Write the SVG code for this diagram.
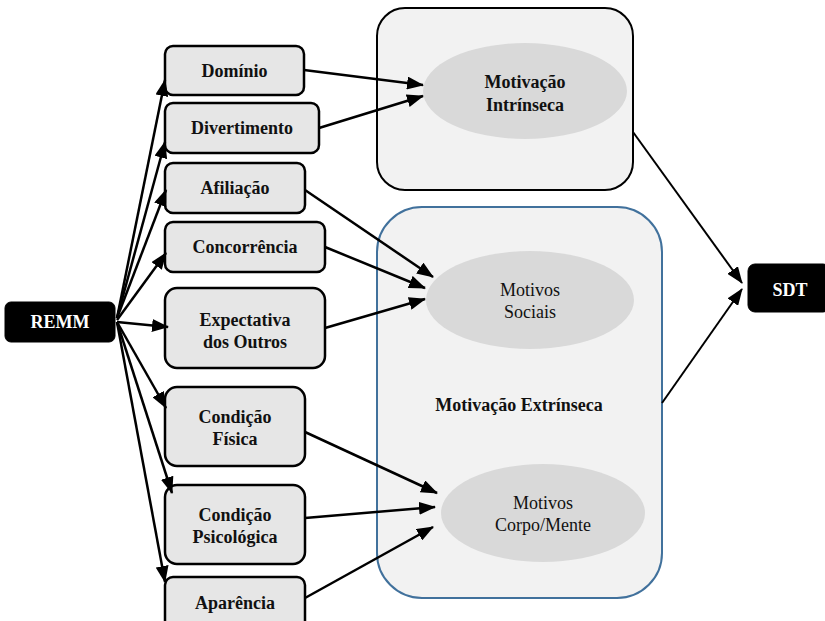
<svg xmlns="http://www.w3.org/2000/svg" width="825" height="621" viewBox="0 0 825 621">
<defs>
<marker id="ah" markerUnits="userSpaceOnUse" markerWidth="17" markerHeight="13" refX="16" refY="6.5" orient="auto" viewBox="0 0 17 13">
<path d="M0,0 L17,6.5 L0,13 Z" fill="#000"/>
</marker>
<style>
.box{fill:#e6e6e6;stroke:#000;stroke-width:2.5}
.dark{fill:#000;stroke:#000}
.t{font-family:"Liberation Serif","Times New Roman",serif;font-size:18px;text-anchor:middle;fill:#111}
.b{font-weight:bold}
.w{fill:#fff;font-weight:bold}
.ell{fill:#d9d9d9}
.c{stroke:#000;stroke-width:2.5;fill:none;marker-end:url(#ah)}
.c2{stroke:#000;stroke-width:2;fill:none;marker-end:url(#ah)}
</style>
</defs>
<rect width="825" height="621" fill="#fff"/>

<g id="intrinseca">
<rect x="377" y="8" width="256" height="182" rx="28" fill="#f2f2f2" stroke="#000" stroke-width="2"/>
<ellipse class="ell" cx="525" cy="91" rx="102" ry="48"/>
<text class="t b" x="525" y="88">Motivação</text>
<text class="t b" x="525" y="111">Intrínseca</text>
</g>

<g id="extrinseca">
<rect x="377" y="207" width="285" height="391" rx="45" fill="#f2f2f2" stroke="#41719c" stroke-width="2"/>
<text class="t b" x="519" y="411">Motivação Extrínseca</text>
</g>
<g id="sociais">
<ellipse class="ell" cx="530" cy="300" rx="104" ry="49"/>
<text class="t" x="530" y="296">Motivos</text>
<text class="t" x="530" y="318">Sociais</text>
</g>
<g id="corpomente">
<ellipse class="ell" cx="543" cy="513" rx="102" ry="49"/>
<text class="t" x="543" y="509">Motivos</text>
<text class="t" x="543" y="531">Corpo/Mente</text>
</g>

<g id="remm">
<rect class="dark" x="5" y="302" width="110" height="40" rx="6"/>
<text class="t w" x="60" y="328">REMM</text>
</g>
<g id="sdt">
<rect class="dark" x="748" y="264" width="82" height="48" rx="7"/>
<text class="t w" x="790" y="296">SDT</text>
</g>

<g id="dominio">
<rect class="box" x="165" y="46" width="139" height="49" rx="8"/>
<text class="t b" x="234.5" y="77">Domínio</text>
</g>
<g id="divertimento">
<rect class="box" x="165" y="103" width="154" height="50" rx="8"/>
<text class="t b" x="242" y="134">Divertimento</text>
</g>
<g id="afiliacao">
<rect class="box" x="165" y="163" width="140" height="50" rx="8"/>
<text class="t b" x="235" y="194">Afiliação</text>
</g>
<g id="concorrencia">
<rect class="box" x="165" y="222" width="160" height="50" rx="8"/>
<text class="t b" x="245" y="253">Concorrência</text>
</g>
<g id="expectativa">
<rect class="box" x="165" y="288" width="160" height="80" rx="12"/>
<text class="t b" x="245" y="326">Expectativa</text>
<text class="t b" x="245" y="348">dos Outros</text>
</g>
<g id="condfisica">
<rect class="box" x="165" y="387" width="140" height="79" rx="12"/>
<text class="t b" x="235" y="423">Condição</text>
<text class="t b" x="235" y="445">Física</text>
</g>
<g id="condpsico">
<rect class="box" x="165" y="485" width="140" height="79" rx="12"/>
<text class="t b" x="235" y="521">Condição</text>
<text class="t b" x="235" y="543">Psicológica</text>
</g>
<g id="aparencia">
<rect class="box" x="165" y="577" width="140" height="52" rx="8"/>
<text class="t b" x="235" y="609">Aparência</text>
</g>

<g id="connectors">
<line class="c" x1="117" y1="318" x2="165" y2="80"/>
<line class="c" x1="117" y1="318" x2="165" y2="142"/>
<line class="c" x1="117" y1="318" x2="166" y2="190"/>
<line class="c" x1="117" y1="320" x2="166" y2="253"/>
<line class="c" x1="117" y1="322" x2="168" y2="327"/>
<line class="c" x1="117" y1="322" x2="166" y2="408"/>
<line class="c" x1="117" y1="322" x2="172" y2="493"/>
<line class="c" x1="117" y1="322" x2="165" y2="582"/>

<line class="c" x1="304" y1="70" x2="423" y2="85"/>
<line class="c" x1="319" y1="128" x2="423" y2="96"/>
<line class="c" x1="305" y1="190" x2="433" y2="277"/>
<line class="c" x1="325" y1="247" x2="425" y2="288"/>
<line class="c" x1="325" y1="328" x2="425" y2="299"/>
<line class="c" x1="305" y1="432" x2="437" y2="493"/>
<line class="c" x1="305" y1="518" x2="435" y2="507"/>
<line class="c" x1="305" y1="598" x2="433" y2="527"/>

<line class="c2" x1="633" y1="132" x2="742" y2="283"/>
<line class="c2" x1="662" y1="403" x2="742" y2="289"/>
</g>
</svg>
